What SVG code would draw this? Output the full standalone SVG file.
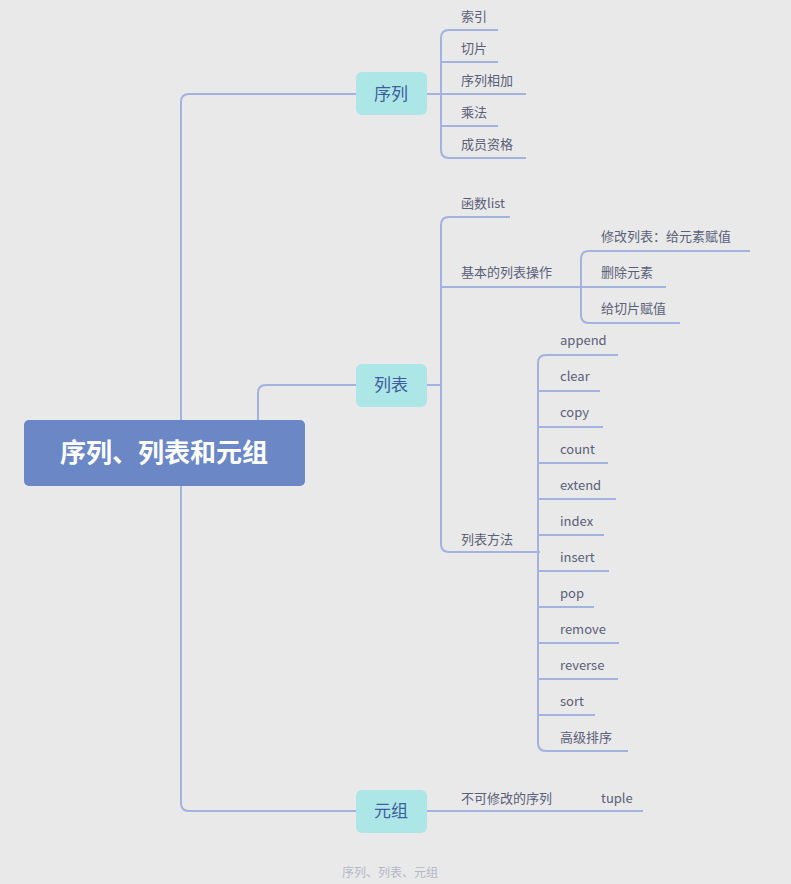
<svg xmlns="http://www.w3.org/2000/svg" width="791" height="884" viewBox="0 0 791 884">
<style>
.l{fill:none;stroke:#a3b2de;stroke-width:2}
.t{font-family:"Noto Sans CJK SC","Noto Sans",sans-serif;font-size:13px;fill:#5a6078}
.n{fill:#ace6e7}
.nt{font-family:"Noto Sans CJK SC",sans-serif;font-size:17px;fill:#3e5e9e;text-anchor:middle}
</style>
<rect width="791" height="884" fill="#e9e9e9"/>
<g id="connectors">
<path class="l" d="M356 94H189Q181 94 181 102V803Q181 811 189 811H356"/>
<path class="l" d="M258 420V393Q258 385 266 385H356"/>
<path class="l" d="M427 94H441M498 30H449Q441 30 441 38V150Q441 158 449 158H526M441 62H498M441 94H526M441 126H498"/>
<path class="l" d="M427 385H441M510 217H449Q441 217 441 225V544Q441 552 449 552H540M441 287H567"/>
<path class="l" d="M567 287H581M750 251H589Q581 251 581 259V315Q581 323 589 323H680M581 287H666"/>
<path class="l" d="M540 552H538M618 355H546Q538 355 538 363V743Q538 751 546 751H628M538 391H600M538 427H603M538 463H608M538 499H616M538 535H604M538 571H609M538 607H594M538 643H619M538 679H618M538 715H595"/>
<path class="l" d="M427 811H643"/>
</g>
<g id="root"><rect x="24" y="420" width="281" height="66" rx="5" fill="#6b87c6"/><text x="164" y="462" text-anchor="middle" font-family="Noto Sans CJK SC,sans-serif" font-size="26" font-weight="bold" fill="#fff">序列、列表和元组</text></g>
<g id="seq"><rect class="n" x="356" y="72" width="71" height="43" rx="6"/><text class="nt" x="391" y="100">序列</text></g>
<g id="list"><rect class="n" x="356" y="364" width="71" height="43" rx="6"/><text class="nt" x="391" y="391">列表</text></g>
<g id="tuple"><rect class="n" x="356" y="790" width="71" height="43" rx="6"/><text class="nt" x="391" y="817">元组</text></g>
<g id="labels">
<text class="t" x="461" y="21">索引</text><text class="t" x="461" y="53">切片</text><text class="t" x="461" y="85">序列相加</text><text class="t" x="461" y="117">乘法</text><text class="t" x="461" y="149">成员资格</text>
<text class="t" x="461" y="208">函数list</text><text class="t" x="461" y="277">基本的列表操作</text><text class="t" x="461" y="544">列表方法</text>
<text class="t" x="601" y="241">修改列表：给元素赋值</text><text class="t" x="601" y="277">删除元素</text><text class="t" x="601" y="313">给切片赋值</text>
<text class="t" x="560" y="345">append</text><text class="t" x="560" y="381">clear</text><text class="t" x="560" y="417">copy</text><text class="t" x="560" y="454">count</text><text class="t" x="560" y="490">extend</text><text class="t" x="560" y="526">index</text><text class="t" x="560" y="562">insert</text><text class="t" x="560" y="598">pop</text><text class="t" x="560" y="634">remove</text><text class="t" x="560" y="670">reverse</text><text class="t" x="560" y="706">sort</text><text class="t" x="560" y="742">高级排序</text>
<text class="t" x="461" y="803">不可修改的序列</text><text class="t" x="601" y="803">tuple</text>
<text x="342" y="877" font-family="Noto Sans CJK SC,sans-serif" font-size="12" fill="#b4b8c8">序列、列表、元组</text>
</g>
</svg>
